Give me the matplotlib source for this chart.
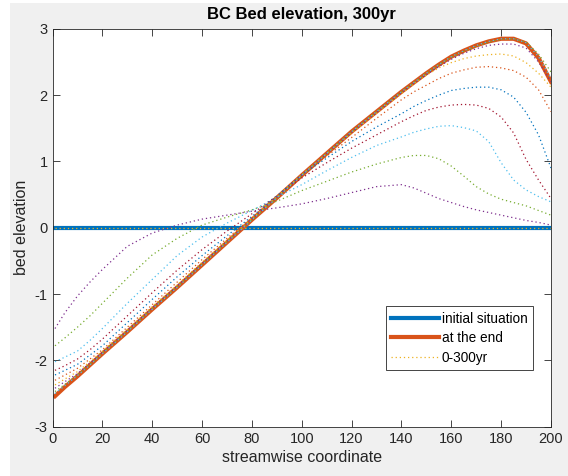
import matplotlib
matplotlib.use("Agg")
import matplotlib.pyplot as plt
from matplotlib.patches import Rectangle

plt.rcParams['font.family'] = ['Liberation Sans', 'DejaVu Sans']
plt.rcParams['axes.unicode_minus'] = False

x = [1, 5, 10, 15, 20, 30, 40, 50, 60, 70, 80, 90, 100, 110, 120, 130, 140, 145,
     150, 155, 160, 165, 170, 175, 180, 185, 190, 195, 200]

initial = [0.0] * len(x)
final = [-2.54, -2.40, -2.24, -2.07, -1.90, -1.57, -1.23, -0.90, -0.56, -0.22, 0.12, 0.45,
         0.79, 1.12, 1.45, 1.75, 2.05, 2.19, 2.33, 2.46, 2.58, 2.67, 2.75, 2.81, 2.85,
         2.85, 2.78, 2.56, 2.20]

# intermediate bed profiles, 0-300yr
t0 = [0.0] * len(x)
t1 = [-1.52, -1.28, -1.03, -0.82, -0.63, -0.28, -0.08, 0.04, 0.13, 0.19, 0.25, 0.30,
      0.36, 0.44, 0.53, 0.62, 0.65, 0.60, 0.52, 0.44, 0.38, 0.32, 0.27, 0.23, 0.19,
      0.15, 0.11, 0.08, 0.04]
t2 = [-1.78, -1.66, -1.50, -1.33, -1.14, -0.76, -0.41, -0.16, 0.04, 0.16, 0.27, 0.40,
      0.56, 0.70, 0.84, 0.96, 1.06, 1.09, 1.09, 1.04, 0.93, 0.78, 0.62, 0.51, 0.43,
      0.38, 0.33, 0.26, 0.19]
t3 = [-2.02, -1.95, -1.86, -1.70, -1.52, -1.14, -0.78, -0.42, -0.14, 0.07, 0.26, 0.46,
      0.65, 0.86, 1.06, 1.24, 1.37, 1.44, 1.49, 1.53, 1.54, 1.51, 1.46, 1.30, 0.98,
      0.72, 0.57, 0.47, 0.39]
t4 = [-2.15, -2.08, -1.98, -1.84, -1.68, -1.33, -0.98, -0.64, -0.33, -0.05, 0.21, 0.48,
      0.75, 0.98, 1.20, 1.40, 1.60, 1.69, 1.77, 1.82, 1.85, 1.86, 1.85, 1.80, 1.67,
      1.43, 1.03, 0.72, 0.44]
t5 = [-2.22, -2.15, -2.06, -1.92, -1.78, -1.43, -1.08, -0.74, -0.42, -0.12, 0.17, 0.48,
      0.80, 1.05, 1.30, 1.52, 1.72, 1.83, 1.92, 2.00, 2.07, 2.10, 2.12, 2.12, 2.08,
      1.97, 1.74, 1.40, 0.90]
t6 = [-2.30, -2.22, -2.12, -1.98, -1.84, -1.50, -1.16, -0.82, -0.48, -0.16, 0.15, 0.47,
      0.80, 1.08, 1.36, 1.65, 1.93, 2.05, 2.15, 2.25, 2.33, 2.38, 2.42, 2.43, 2.41,
      2.37, 2.27, 2.08, 1.75]
t7 = [-2.37, -2.28, -2.17, -2.02, -1.86, -1.53, -1.19, -0.86, -0.52, -0.19, 0.14, 0.47,
      0.80, 1.12, 1.43, 1.73, 2.02, 2.17, 2.30, 2.41, 2.49, 2.55, 2.59, 2.61, 2.62,
      2.59, 2.49, 2.33, 2.12]
t8 = [-2.42, -2.32, -2.20, -2.04, -1.88, -1.55, -1.21, -0.88, -0.54, -0.21, 0.13, 0.46,
      0.79, 1.12, 1.44, 1.74, 2.04, 2.18, 2.31, 2.43, 2.54, 2.63, 2.70, 2.75, 2.77,
      2.77, 2.71, 2.50, 2.20]
t9 = [-2.47, -2.36, -2.22, -2.06, -1.89, -1.56, -1.22, -0.89, -0.55, -0.21, 0.12, 0.45,
      0.79, 1.12, 1.45, 1.75, 2.05, 2.19, 2.33, 2.46, 2.57, 2.66, 2.73, 2.80, 2.84,
      2.85, 2.80, 2.62, 2.35]
t10 = [-2.50, -2.38, -2.23, -2.07, -1.90, -1.57, -1.23, -0.90, -0.56, -0.22, 0.12, 0.45,
       0.79, 1.12, 1.45, 1.75, 2.05, 2.19, 2.33, 2.46, 2.58, 2.67, 2.75, 2.81, 2.85,
       2.85, 2.79, 2.58, 2.25]
profiles = [t0, t1, t2, t3, t4, t5, t6, t7, t8, t9, t10]

xticks = [0, 20, 40, 60, 80, 100, 120, 140, 160, 180, 200]
yticks = [-3, -2, -1, 0, 1, 2, 3]

# matlab default colour order
blue = '#0072BD'
orange = '#D95319'
cycle = ['#EDB120', '#7E2F8E', '#77AC30', '#4DBEEE', '#A2142F', '#0072BD', '#D95319']
dark = '#262626'

fig = plt.figure(figsize=(5.68, 4.76), dpi=100, facecolor='#F0F0F0')
# white strip of the screenshot on the left and top
fig.patches.append(Rectangle((0, 0), 10 / 568, 1, transform=fig.transFigure,
                             facecolor='white', edgecolor='none', zorder=0))
fig.patches.append(Rectangle((0, 1 - 3 / 476), 1, 3 / 476, transform=fig.transFigure,
                             facecolor='white', edgecolor='none', zorder=0))

ax = fig.add_axes([52.5 / 568, 49.3 / 476, 498.5 / 568, 397.9 / 476])
ax.set_facecolor('white')

ax.plot(x, initial, color=blue, lw=3, label='initial situation')
ax.plot(x, final, color=orange, lw=3, label='at the end')
for i, prof in enumerate(profiles):
    ax.plot(x, prof, color=cycle[i % len(cycle)], lw=0.9, dashes=(1, 2.3),
            label='0-300yr' if i == 0 else None)

ax.set_xlim(0, 200)
ax.set_ylim(-3, 3)
ax.set_xticks(xticks)
ax.set_yticks(yticks)
ax.tick_params(direction='in', length=5, width=0.6, colors=dark, labelsize=10.5,
               top=True, right=True, labelcolor=dark)
for s in ax.spines.values():
    s.set_color(dark)
    s.set_linewidth(0.6)

ax.set_title('BC Bed elevation, 300yr', fontsize=12, fontweight='bold', color='black', pad=7)
ax.set_xlabel('streamwise coordinate', fontsize=11.5, color=dark, labelpad=3)
ax.set_ylabel('bed elevation', fontsize=11.5, color=dark, labelpad=4)

leg = ax.legend(loc='lower right', bbox_to_anchor=(0.964, 0.1425), borderaxespad=0,
                fontsize=9.8, fancybox=False, framealpha=1, edgecolor=dark,
                handlelength=3.5, handletextpad=0.2, borderpad=0.4, labelspacing=0.4)
leg.get_frame().set_linewidth(0.6)

fig.savefig('out.png', dpi=100, facecolor=fig.get_facecolor())
